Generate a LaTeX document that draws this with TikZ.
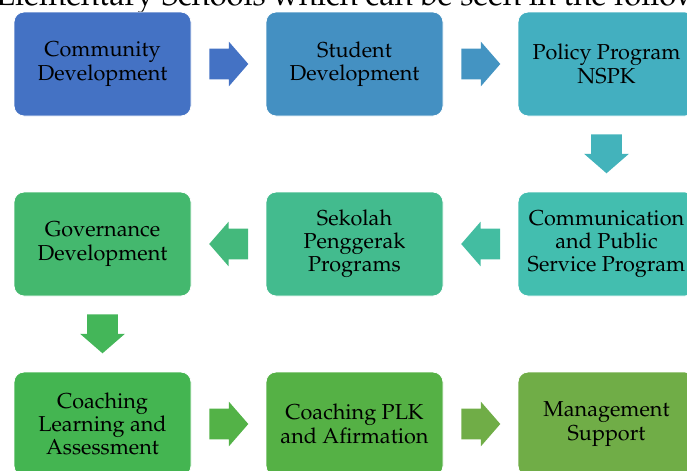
\documentclass[tikz,border=0pt]{standalone}
\usepackage[T1]{fontenc}
\usepackage{mathpazo}
\usetikzlibrary{shapes.arrows, calc}

% colour range from accent 1 to accent 6
\definecolor{stepA}{HTML}{4472C4}
\definecolor{stepB}{HTML}{4490C2}
\definecolor{stepC}{HTML}{43AFC0}
\definecolor{stepD}{HTML}{43BEAF}
\definecolor{stepE}{HTML}{43BB8E}
\definecolor{stepF}{HTML}{44B86E}
\definecolor{stepG}{HTML}{44B551}
\definecolor{stepH}{HTML}{55B145}
\definecolor{stepI}{HTML}{70AD47}

\begin{document}
\begin{tikzpicture}[line join=round,
	font=\fontsize{12.3}{13.2}\selectfont,
	stage/.style={fill=#1, draw=white, line width=0.5pt, rounded corners=0.2cm,
		minimum width=3.54cm, minimum height=2.08cm, align=center, inner sep=2pt},
	flow/.style={single arrow, fill=#1, draw=none, inner xsep=0pt, inner ysep=0.3cm,
		minimum height=0.78cm, minimum width=0pt, anchor=tail,
		single arrow head extend=0.14cm, single arrow tip angle=98}]

\path[use as bounding box, clip] (0,0) rectangle (13.74,9.4);

% text line above the chart
\node[anchor=base west, inner sep=0pt, font=\fontsize{17.6}{20}\selectfont] (heading)
	at (-0.08,9.29) {Elementary Schools which can be seen in the following};

% ===== Row 1 =====
\node[stage=stepA] (community) at (2.05,8.12) {Community\\Development};
\node[stage=stepB] (student) at (7.09,8.12) {Student\\Development};
\node[stage=stepC] (policy) at (12.13,8.12) {Policy Program\\NSPK};

% ===== Row 2 =====
\node[stage=stepD] (communication) at (12.13,4.52) {Communication\\and Public\\Service Program};
\node[stage=stepE] (sekolah) at (7.09,4.52) {Sekolah\\Penggerak\\Programs};
\node[stage=stepF] (governance) at (2.05,4.52) {Governance\\Development};

% ===== Row 3 =====
\node[stage=stepG] (coaching) at (2.05,0.92) {Coaching\\Learning and\\Assessment};
\node[stage=stepH] (plk) at (7.09,0.92) {Coaching PLK\\and Afirmation};
\node[stage=stepI] (management) at (12.13,0.92) {Management\\Support};

% block arrows between the stages (tail sits 0.35 off the box)
\node[flow=stepA] (f1) at ($(community.east)+(0.35,0)$) {};
\node[flow=stepB!86!stepC] (f2) at ($(student.east)+(0.35,0)$) {};
\node[flow=stepC!71!stepD, rotate=-90] (f3) at ($(policy.south)+(0,-0.35)$) {};
\node[flow=stepD!57!stepE, rotate=180] (f4) at ($(communication.west)+(-0.34,0)$) {};
\node[flow=stepE!43!stepF, rotate=180] (f5) at ($(sekolah.west)+(-0.34,0)$) {};
\node[flow=stepF!29!stepG, rotate=-90] (f6) at ($(governance.south)+(0,-0.35)$) {};
\node[flow=stepG!14!stepH] (f7) at ($(coaching.east)+(0.35,0)$) {};
\node[flow=stepI] (f8) at ($(plk.east)+(0.35,0)$) {};

\end{tikzpicture}
\end{document}
